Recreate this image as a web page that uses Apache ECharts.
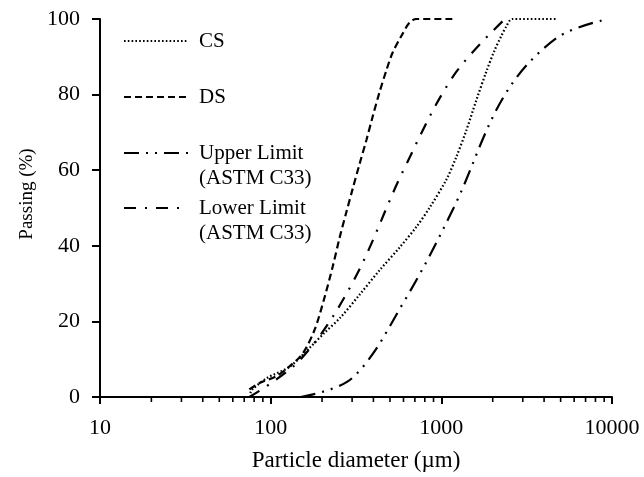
<!DOCTYPE html>
<html>
<head>
<meta charset="utf-8">
<script src="https://cdn.jsdelivr.net/npm/echarts@6/dist/echarts.min.js"></script>
<style>
  html, body { margin: 0; padding: 0; background: #fff; }
  #chart { width: 644px; height: 477px; }
</style>
</head>
<body>
<div id="chart"></div>
<script>
// particle size (µm) and % passing
const csSize = [76, 78, 95, 129, 169, 207, 256, 331, 434, 568, 714, 851, 1070, 1224, 1400, 1603, 1832, 2042, 2245, 2400, 2600, 4700];
const csPass = [1, 2, 5, 8, 13, 17, 21, 27, 33.5, 39.5, 45, 50, 57.5, 63.5, 70.5, 78.5, 86, 91.5, 95.5, 98, 100, 100];

const dsSize = [75, 86, 108, 129, 154, 181, 207, 231, 253, 278, 302, 331, 364, 395, 434, 477, 517, 583, 650, 714, 1160];
const dsPass = [2, 3.7, 5.5, 8.1, 11.5, 17.8, 26.4, 34.5, 42, 49, 55, 61.5, 68, 74, 80.6, 86.5, 91, 95.5, 99, 100, 100];

// ASTM C33 limit curves (sieve sizes)
const upperSize = [150, 300, 600, 1180, 2360, 4750, 9500];
const upperPass = [0, 5, 25, 50, 80, 95, 100];

const lowerSize = [75, 150, 300, 600, 1180, 2360];
const lowerPass = [0, 10, 30, 60, 85, 100];

// minor ticks of the log axis
const minorTicks = [20, 30, 40, 50, 60, 70, 80, 90, 200, 300, 400, 500, 600, 700, 800, 900, 2000, 3000, 4000, 5000, 6000, 7000, 8000, 9000];

const legendNames = ['CS', 'DS', 'Upper Limit\n(ASTM C33)', 'Lower Limit\n(ASTM C33)'];

const FONT = 'Liberation Serif, Times New Roman, serif';

const dashCS = [1.6, 2.2];
const dashDS = [7, 4];
const dashUpper = [15, 7, 2, 7, 2, 7];
const dashLower = [12, 9, 2, 9];

const pairs = (xs, ys) => xs.map((x, i) => [x, ys[i]]);

const chart = echarts.init(document.getElementById('chart'));

const mkSeries = (name, xs, ys, dash, smooth) => ({
    name: name,
    type: 'line',
    data: pairs(xs, ys),
    showSymbol: false,
    smooth: smooth,
    lineStyle: { color: '#000', width: 2.2, type: dash },
    z: 3
});

// legend drawn by hand so icons sit on the first text line
const legendRows = [41, 97, 153, 208];
const legendDash = [dashCS, dashDS, dashUpper, dashLower];
const graphic = [];
legendRows.forEach((y, i) => {
    graphic.push({
        type: 'line',
        shape: { x1: 124, y1: y, x2: 188, y2: y },
        style: { stroke: '#000', lineWidth: 2.2, lineDash: legendDash[i] }
    });
    graphic.push({
        type: 'text',
        left: 199,
        top: y - 12,
        style: { text: legendNames[i], font: '21px ' + FONT, fill: '#000', lineHeight: 25 }
    });
});

const option = {
    animation: false,
    backgroundColor: '#fff',
    grid: { left: 100, right: 32, top: 19, bottom: 76 },
    xAxis: {
        type: 'log',
        logBase: 10,
        min: 10,
        max: 10000,
        name: 'Particle diameter (µm)',
        nameLocation: 'middle',
        nameGap: 52,
        nameTextStyle: { fontFamily: FONT, fontSize: 23, color: '#000' },
        axisLine: { lineStyle: { color: '#000', width: 2 } },
        axisTick: { show: true, length: 7, lineStyle: { color: '#000', width: 2 } },
        axisLabel: {
            fontFamily: FONT, fontSize: 22, color: '#000', margin: 20,
            formatter: v => String(v)
        },
        splitLine: { show: false }
    },
    yAxis: {
        type: 'value',
        min: 0,
        max: 100,
        interval: 20,
        name: 'Passing (%)',
        nameLocation: 'middle',
        nameGap: 62,
        nameTextStyle: { fontFamily: FONT, fontSize: 19, color: '#000', padding: [0, 0, 0, 28] },
        axisLine: { show: true, lineStyle: { color: '#000', width: 2 } },
        axisTick: { show: true, length: 8, lineStyle: { color: '#000', width: 2 } },
        axisLabel: { fontFamily: FONT, fontSize: 22, color: '#000', margin: 20 },
        splitLine: { show: false }
    },
    series: [
        mkSeries('CS', csSize, csPass, dashCS, 0.3),
        mkSeries('DS', dsSize, dsPass, dashDS, 0.3),
        mkSeries('Upper Limit', upperSize, upperPass, dashUpper, 0.35),
        mkSeries('Lower Limit', lowerSize, lowerPass, dashLower, 0.35),
        {
            type: 'custom',
            clip: false,
            silent: true,
            data: minorTicks.map(v => [v, 0]),
            renderItem: (params, api) => {
                const p = api.coord([api.value(0), 0]);
                return {
                    type: 'line',
                    shape: { x1: p[0], y1: p[1], x2: p[0], y2: p[1] + 5 },
                    style: { stroke: '#000', lineWidth: 1.6 }
                };
            },
            z: 4
        }
    ],
    graphic: graphic
};

chart.setOption(option);
</script>
</body>
</html>
